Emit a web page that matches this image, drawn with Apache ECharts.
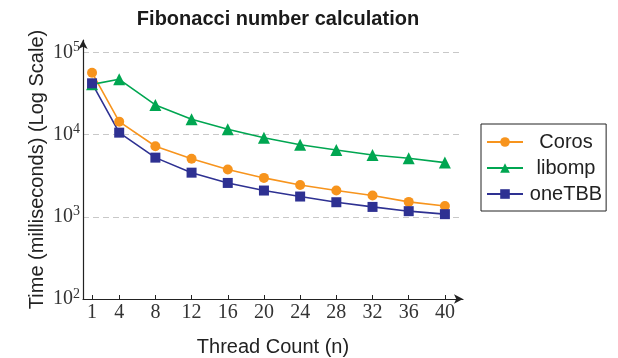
<!DOCTYPE html>
<html><head><meta charset="utf-8">
<script src="https://cdn.jsdelivr.net/npm/echarts@6/dist/echarts.min.js"></script>
<style>html,body{margin:0;padding:0;background:#fff}#c{width:618px;height:358px}</style>
</head><body><div id="c"></div>
<script>
const threads = [1, 4, 8, 12, 16, 20, 24, 28, 32, 36, 40];
const coros  = [56500, 14350, 7210, 5090, 3750, 2970, 2440, 2085, 1813, 1517, 1355];
const libomp = [40800, 47000, 22900, 15350, 11600, 9160, 7530, 6500, 5650, 5150, 4560];
const onetbb = [42000, 10550, 5240, 3440, 2580, 2085, 1763, 1503, 1318, 1170, 1076];

const chart = echarts.init(document.getElementById('c'), null, {renderer: 'canvas'});
const pair = (ys) => threads.map((t, i) => [t, ys[i]]);
const serif = '"Liberation Serif", "DejaVu Serif", serif';
const sans = '"Liberation Sans", Arial, sans-serif';
const mk = (name, data, color, symbol, size) => ({
  name, type: 'line', data: pair(data), symbol, symbolSize: size,
  lineStyle: {color, width: 1.6}, itemStyle: {color}, color, z: 3
});
chart.setOption({
  animation: false,
  title: {text: 'Fibonacci number calculation', left: 273, top: 4, textAlign: 'center',
    textStyle: {fontFamily: sans, fontWeight: 'bold', fontSize: 20, color: '#1a1a1a'}},
  legend: {
    left: 481, top: 124, orient: 'vertical', itemGap: 6, itemWidth: 36, itemHeight: 12,
    borderColor: '#222', borderWidth: 1, borderRadius: 0, padding: [8, 4, 7, 5],
    formatter: (n) => '{c|' + n + '}',
    textStyle: {fontFamily: sans, fontSize: 20, color: '#222',
      rich: {c: {fontFamily: sans, fontSize: 20, color: '#222', width: 76, align: 'center'}}},
    data: ['Coros', 'libomp', 'oneTBB']
  },
  grid: {left: 83, right: 155, top: 40, bottom: 59, containLabel: false, outerBoundsMode: 'none'},
  xAxis: {
    type: 'value', min: 0, max: 42,
    name: 'Thread Count (n)', nameLocation: 'middle', nameGap: 38, nameMoveOverlap: false,
    nameTextStyle: {fontFamily: sans, fontSize: 20, color: '#222'},
    axisLine: {show: true, symbol: ['none', 'arrow'], symbolSize: [7, 9], lineStyle: {color: '#222', width: 1.2}},
    axisTick: {show: true, inside: true, length: 4, customValues: threads, lineStyle: {color: '#222'}},
    axisLabel: {customValues: threads, fontFamily: serif, fontSize: 20, color: '#333', margin: 4},
    splitLine: {show: false}
  },
  yAxis: {
    type: 'log', logBase: 10, min: 100, max: 141254,
    name: 'Time (milliseconds) (Log Scale)', nameLocation: 'middle', nameGap: 36, nameMoveOverlap: false,
    nameTextStyle: {fontFamily: sans, fontSize: 20, color: '#222'},
    axisLine: {show: true, symbol: ['none', 'arrow'], symbolSize: [7, 9], lineStyle: {color: '#222', width: 1.2}},
    axisTick: {show: false},
    axisLabel: {
      margin: 3,
      formatter: function (v) {
        const e = Math.log10(v);
        if (Math.abs(e - Math.round(e)) > 1e-6) return '';
        return '{b|10}{s|' + Math.round(e) + '}';
      },
      rich: {
        b: {fontFamily: serif, fontSize: 20, color: '#333'},
        s: {fontFamily: serif, fontSize: 14, color: '#333', verticalAlign: 'top', padding: [0, 0, 10, 0]}
      }
    },
    splitLine: {show: true, showMaxLine: false, showMinLine: false, lineStyle: {color: '#c8c8c8', type: [6, 4], width: 1}}
  },
  series: [
    mk('Coros', coros, '#f7941d', 'circle', 10),
    mk('libomp', libomp, '#00a651', 'triangle', 12),
    mk('oneTBB', onetbb, '#2e3192', 'rect', 10)
  ]
});
</script></body></html>
